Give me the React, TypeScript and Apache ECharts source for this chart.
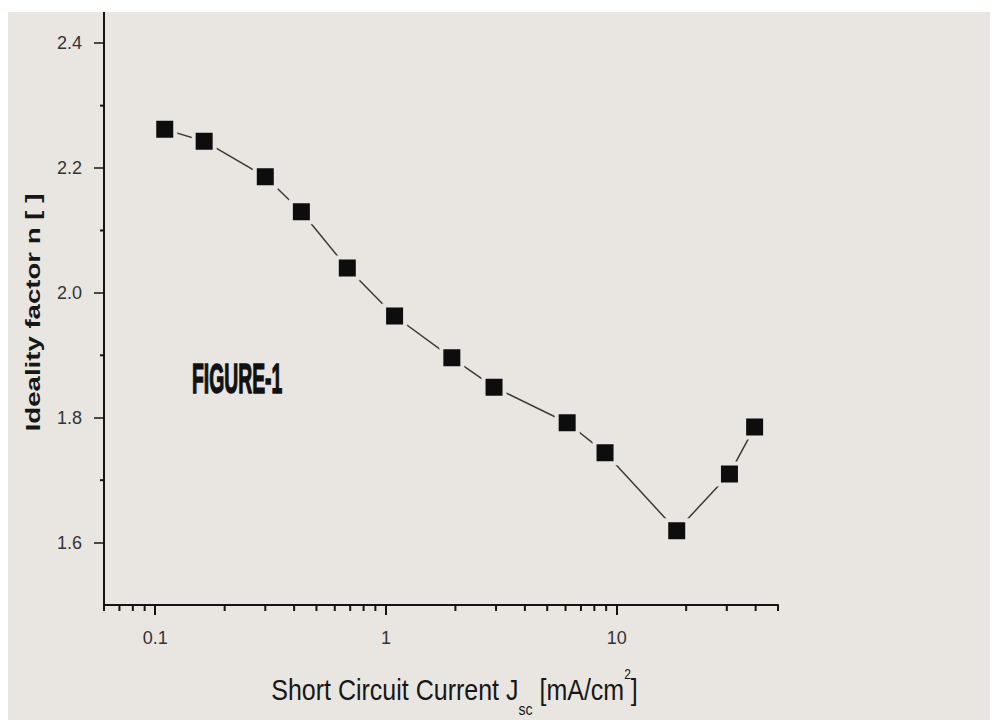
import React, { useEffect, useRef } from "react";
import * as echarts from "echarts";

// Short-circuit current density J_sc [mA/cm^2]
const jsc = [0.11, 0.163, 0.3, 0.43, 0.68, 1.09, 1.93, 2.94, 6.1, 8.9, 18.2, 30.8, 39.6];
// Ideality factor n
const idealityN = [2.262, 2.243, 2.186, 2.13, 2.04, 1.963, 1.896, 1.849, 1.792, 1.744, 1.619, 1.71, 1.785];

const xMajorTicks = [0.1, 1, 10];
const xMinorTicks = [0.06, 0.07, 0.08, 0.09, 0.2, 0.3, 0.4, 0.5, 0.6, 0.7, 0.8, 0.9, 2, 3, 4, 5, 6, 7, 8, 9, 20, 30, 40, 50];
const yMajorTicks = [1.6, 1.8, 2.0, 2.2, 2.4];
const yMinorTicks = [1.7, 1.9, 2.1, 2.3];

const xTitle = "Short Circuit Current J{sub|sc} [mA/cm{sup|2}]";
const yTitle = "Ideality factor n [ ]";
const figureLabel = "FIGURE-1";

const X_MIN = 0.06;
const X_MAX = 50;
const Y_MIN = 1.5;
const Y_MAX = 2.45;

export default function App() {
  const ref = useRef<HTMLDivElement>(null);

  useEffect(() => {
    if (!ref.current) return;
    const chart = echarts.init(ref.current, undefined, { renderer: "svg" });
    const axisColor = "#141414";
    const paper = "#e9e6e1";
    const labelFont = "'Liberation Sans', Arial, sans-serif";

    const tickSeries = (data: number[][], dir: "x" | "y", len: number) => ({
      type: "custom",
      xAxisIndex: 0,
      yAxisIndex: 0,
      silent: true,
      clip: false,
      z: 5,
      data,
      renderItem: (_params: any, api: any) => {
        const p = api.coord([api.value(0), api.value(1)]);
        const shape =
          dir === "x"
            ? { x1: p[0], y1: p[1], x2: p[0], y2: p[1] + len }
            : { x1: p[0], y1: p[1], x2: p[0] - len, y2: p[1] };
        return { type: "line", shape, style: { stroke: axisColor, lineWidth: 2 } };
      },
    });

    chart.setOption({
      animation: false,
      backgroundColor: paper,
      grid: { left: 96, right: 212, top: 0, bottom: 115, containLabel: false },
      xAxis: {
        type: "log",
        logBase: 10,
        min: X_MIN,
        max: X_MAX,
        position: "bottom",
        axisLine: { show: true, onZero: false, lineStyle: { color: axisColor, width: 2 } },
        axisTick: { show: true, inside: false, length: 10, customValues: xMajorTicks, lineStyle: { color: axisColor, width: 2 } },
        axisLabel: {
          show: true,
          customValues: xMajorTicks,
          margin: 24,
          color: "#333",
          fontSize: 18,
          fontFamily: labelFont,
          formatter: (v: number) => (v >= 1 ? String(Math.round(v)) : v.toFixed(1)),
        },
        splitLine: { show: false },
        minorTick: { show: false },
      },
      yAxis: {
        type: "value",
        min: Y_MIN,
        max: Y_MAX,
        position: "left",
        axisLine: { show: true, onZero: false, lineStyle: { color: axisColor, width: 2 } },
        axisTick: { show: true, inside: false, length: 10, customValues: yMajorTicks, lineStyle: { color: axisColor, width: 1.5 } },
        axisLabel: {
          show: true,
          customValues: yMajorTicks,
          margin: 22,
          color: "#333",
          fontSize: 18,
          fontFamily: labelFont,
          formatter: (v: number) => v.toFixed(1),
        },
        splitLine: { show: false },
        minorTick: { show: false },
      },
      graphic: [
        {
          type: "text",
          x: 184,
          y: 366,
          scaleX: 0.45,
          style: {
            text: figureLabel,
            font: "bold 43px 'Liberation Sans', Arial, sans-serif",
            fill: "#111",
            stroke: "#111",
            lineWidth: 1.5,
            align: "left",
            verticalAlign: "middle",
            textAlign: "left",
            textVerticalAlign: "middle",
          },
        },
        {
          type: "text",
          x: 446.5,
          y: 677.5,
          scaleY: 1.2,
          style: {
            text: xTitle,
            font: "25px 'Liberation Sans', Arial, sans-serif",
            fill: "#161616",
            align: "center",
            verticalAlign: "middle",
            textAlign: "center",
            textVerticalAlign: "middle",
            lineHeight: 30,
            rich: {
              sub: { fontSize: 14, fontFamily: "'Liberation Sans', Arial, sans-serif", fill: "#161616", lineHeight: 10, verticalAlign: "middle", padding: [33, 0, 0, 0] },
              sup: { fontSize: 12, fontFamily: "'Liberation Sans', Arial, sans-serif", fill: "#161616", lineHeight: 10, verticalAlign: "middle", padding: [0, 0, 26, 0] },
            },
          },
        },
        {
          type: "text",
          x: 25,
          y: 300.5,
          rotation: Math.PI / 2,
          scaleX: 1.38,
          style: {
            text: yTitle,
            font: "bold 20px 'Liberation Sans', Arial, sans-serif",
            fill: "#161616",
            align: "center",
            verticalAlign: "middle",
            textAlign: "center",
            textVerticalAlign: "middle",
          },
        },
      ],
      series: [
        tickSeries(xMinorTicks.map((v) => [v, Y_MIN]), "x", 6),
        tickSeries(yMinorTicks.map((v) => [X_MIN, v]), "y", 4),
        {
          type: "line",
          xAxisIndex: 0,
          yAxisIndex: 0,
          data: jsc.map((x, i) => [x, idealityN[i]]),
          symbol: "rect",
          symbolSize: 21,
          showSymbol: true,
          lineStyle: { color: "#3a3a3a", width: 1.5 },
          itemStyle: { color: "#0d0d0d", borderColor: paper, borderWidth: 4 },
          z: 3,
        },
      ],
    });

    return () => chart.dispose();
  }, []);

  return (
    <div style={{ position: "fixed", left: 0, top: 0, width: 997, height: 720, background: "#ffffff" }}>
      <div ref={ref} style={{ position: "absolute", left: 8, top: 12, width: 982, height: 708 }} />
    </div>
  );
}
